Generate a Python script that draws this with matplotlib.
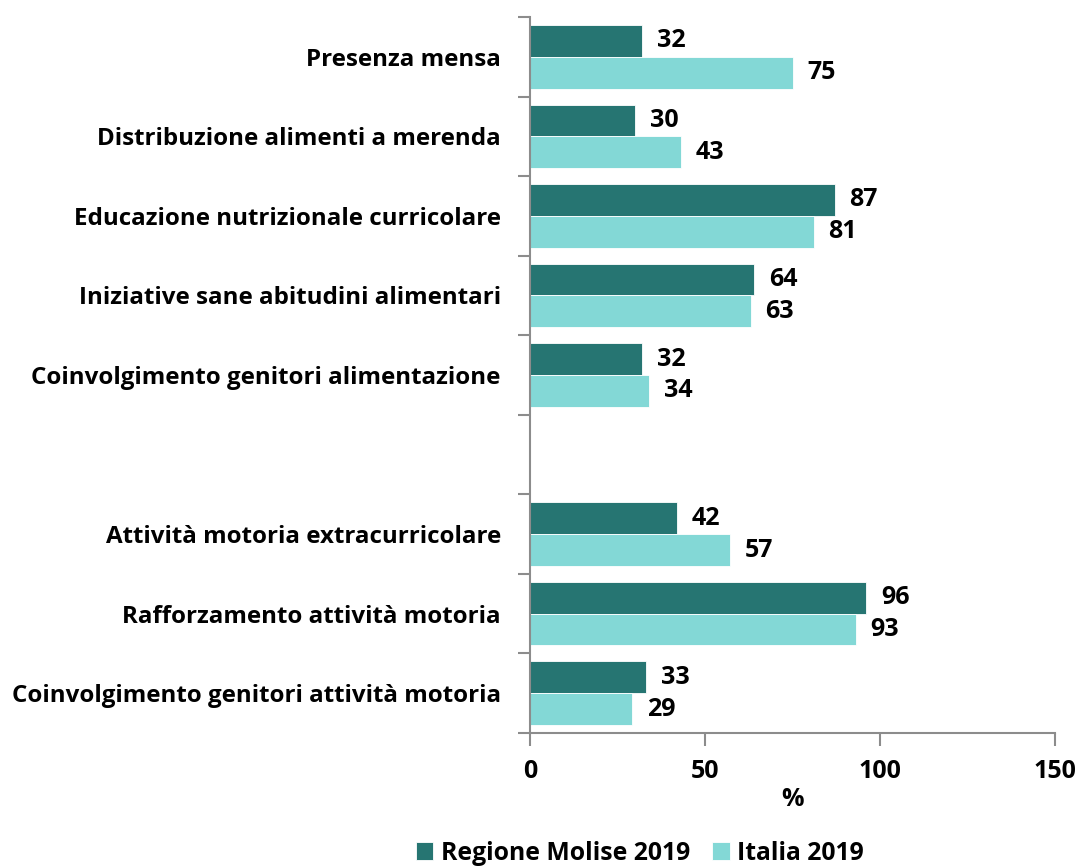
import numpy as np
import matplotlib
matplotlib.use('Agg')
import matplotlib.pyplot as plt
from matplotlib.ticker import FixedLocator

# data (top to bottom, blank slot separates the two groups)
categories = [
    "Presenza mensa",
    "Distribuzione alimenti a merenda",
    "Educazione nutrizionale curricolare",
    "Iniziative sane abitudini alimentari",
    "Coinvolgimento genitori alimentazione",
    "",
    "Attività motoria extracurricolare",
    "Rafforzamento attività motoria",
    "Coinvolgimento genitori attività motoria",
]
molise = [32, 30, 87, 64, 32, None, 42, 96, 33]
italia = [75, 43, 81, 63, 34, None, 57, 93, 29]
series_names = ["Regione Molise 2019", "Italia 2019"]
x_ticks = [0, 50, 100, 150]

c_dark = "#267572"
c_light = "#83D8D6"
axis_grey = "#8c8c8c"

plt.rcParams['font.family'] = ['Open Sans', 'DejaVu Sans']
plt.rcParams['font.weight'] = 'bold'

fig = plt.figure(figsize=(10.8, 8.67), dpi=100)
ax = fig.add_axes([530 / 1080, 1 - 733 / 867, 525 / 1080, 716 / 867])

n = len(categories)
y = np.arange(n)
h = 0.4
for i in range(n):
    if molise[i] is None:
        continue
    ax.barh(y[i] - h / 2, molise[i], height=h, color=c_dark,
            edgecolor='white', linewidth=0.6, label=series_names[0] if i == 0 else None)
    ax.barh(y[i] + h / 2, italia[i], height=h, color=c_light,
            edgecolor='white', linewidth=0.6, label=series_names[1] if i == 0 else None)
    ax.text(molise[i] + 4.3, y[i] - h / 2, str(molise[i]), va='center', ha='left',
            fontsize=18, fontweight='bold')
    ax.text(italia[i] + 4.3, y[i] + h / 2, str(italia[i]), va='center', ha='left',
            fontsize=18, fontweight='bold')

ax.set_ylim(n - 0.5, -0.5)
ax.set_xlim(0, 150)
ax.set_yticks(y)
ax.set_yticklabels(categories, fontsize=17.4, fontweight='bold')
ax.yaxis.set_minor_locator(FixedLocator(np.arange(n + 1) - 0.5))
ax.tick_params(axis='y', which='major', length=0, pad=21)
ax.tick_params(axis='y', which='minor', length=9, color=axis_grey, width=1.5)
ax.set_xticks(x_ticks)
ax.set_xticklabels([str(v) for v in x_ticks], fontsize=18, fontweight='bold')
ax.tick_params(axis='x', length=9, color=axis_grey, width=1.5, pad=10)
ax.set_xlabel("%", fontsize=18, fontweight='bold', labelpad=2)

for s in ['top', 'right']:
    ax.spines[s].set_visible(False)
for s in ['left', 'bottom']:
    ax.spines[s].set_color(axis_grey)
    ax.spines[s].set_linewidth(1.5)

fig.legend(loc='center', bbox_to_anchor=(640 / 1080, 1 - 853 / 867), ncol=2, frameon=False,
           prop={'size': 17.8, 'weight': 'bold'}, handlelength=0.7, handleheight=0.7,
           handletextpad=0.3, columnspacing=0.9)

fig.savefig('out.png', dpi=100)
